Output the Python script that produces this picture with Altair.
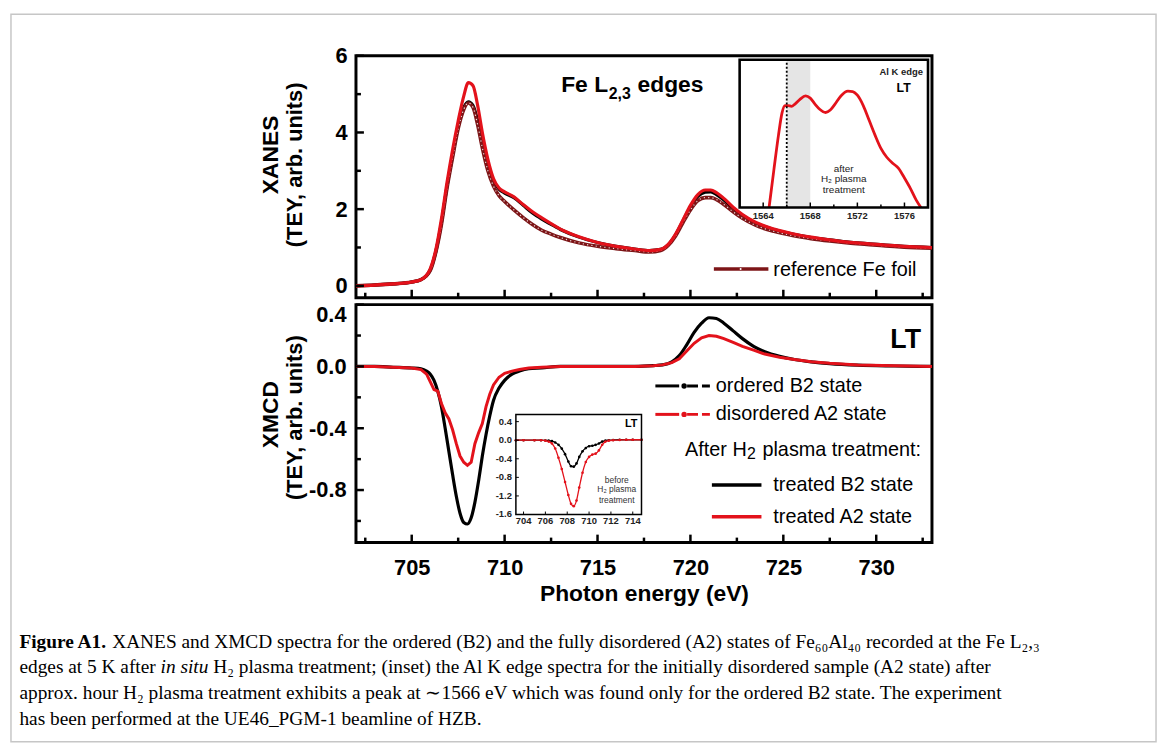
import altair as alt
import pandas as pd

SANS = "Liberation Sans, Arial, Helvetica, sans-serif"
SERIF = "Liberation Serif, Times New Roman, serif"
RED = "#e3121b"
MAROON = "#7d1517"

# ---------------- data ----------------
# XANES (top panel): photon energy, treated A2 (red), treated B2 (black), reference Fe foil
xanes_e = [702.0, 703.0, 704.0, 705.0, 705.5, 706.0, 706.3, 706.6, 706.9, 707.2,
           707.5, 707.8, 708.05, 708.3, 708.55, 708.8, 709.1, 709.4, 709.7, 710.0,
           710.5, 711.0, 711.5, 712.0, 712.5, 713.0, 714.0, 715.0, 716.0, 717.0,
           717.8, 718.4, 718.8, 719.2, 719.6, 720.0, 720.4, 720.8, 721.1, 721.4,
           721.8, 722.3, 722.8, 723.5, 724.5, 725.5, 726.5, 727.5, 728.5, 729.5,
           730.5, 731.5, 733.0]
xanes_a2 = [0.00, 0.02, 0.05, 0.10, 0.16, 0.45, 0.95, 1.75, 2.70, 3.55,
            4.30, 4.95, 5.30, 5.22, 4.70, 4.00, 3.30, 2.80, 2.55, 2.45,
            2.32, 2.12, 1.93, 1.77, 1.62, 1.48, 1.28, 1.13, 1.03, 0.96,
            0.92, 0.95, 1.08, 1.35, 1.72, 2.10, 2.38, 2.50, 2.50, 2.43,
            2.28, 2.05, 1.86, 1.66, 1.48, 1.36, 1.27, 1.20, 1.14, 1.10,
            1.06, 1.03, 1.00]
xanes_b2 = [0.00, 0.02, 0.05, 0.10, 0.16, 0.42, 0.90, 1.65, 2.60, 3.40,
            4.15, 4.65, 4.80, 4.70, 4.30, 3.70, 3.15, 2.75, 2.52, 2.42,
            2.30, 2.10, 1.90, 1.74, 1.60, 1.47, 1.27, 1.13, 1.03, 0.96,
            0.92, 0.95, 1.07, 1.33, 1.70, 2.06, 2.33, 2.44, 2.45, 2.38,
            2.24, 2.02, 1.84, 1.64, 1.47, 1.35, 1.26, 1.20, 1.14, 1.10,
            1.06, 1.03, 1.00]
xanes_ref = [0.00, 0.02, 0.05, 0.10, 0.16, 0.40, 0.88, 1.60, 2.55, 3.35,
             4.10, 4.60, 4.77, 4.65, 4.20, 3.60, 3.00, 2.60, 2.35, 2.20,
             1.98, 1.78, 1.60, 1.45, 1.35, 1.26, 1.12, 1.03, 0.97, 0.92,
             0.88, 0.92, 1.05, 1.30, 1.65, 1.98, 2.22, 2.30, 2.30, 2.25,
             2.12, 1.93, 1.76, 1.58, 1.42, 1.31, 1.23, 1.17, 1.12, 1.08,
             1.04, 1.01, 0.98]

# XMCD after treatment (bottom panel)
xmcd_e = [702, 703, 704, 705, 705.5, 705.8, 706.0, 706.2, 706.4, 706.6,
          706.8, 707.0, 707.2, 707.4, 707.6, 707.8, 708.0, 708.2, 708.4, 708.6,
          708.8, 709.0, 709.2, 709.4, 709.7, 710.0, 710.4, 710.8, 711.3, 712,
          713, 714, 715, 716, 717, 718, 718.5, 719.0, 719.4, 719.8,
          720.2, 720.6, 721.0, 721.4, 721.8, 722.3, 722.8, 723.4, 724.0, 724.8,
          725.6, 726.5, 727.5, 729, 731, 733]
xmcd_b2 = [0, 0, -0.005, -0.01, -0.015, -0.03, -0.05, -0.09, -0.16, -0.26,
           -0.40, -0.55, -0.70, -0.84, -0.95, -1.01, -1.02, -0.98, -0.88, -0.74,
           -0.58, -0.44, -0.32, -0.22, -0.14, -0.09, -0.05, -0.03, -0.015, -0.01,
           0, 0, 0, 0, 0, 0.005, 0.01, 0.03, 0.07, 0.14,
           0.22, 0.28, 0.315, 0.31, 0.28, 0.23, 0.18, 0.13, 0.095, 0.065,
           0.045, 0.03, 0.018, 0.008, 0.003, 0]
xmcd_a2 = [0, 0, -0.005, -0.01, -0.02, -0.05, -0.10, -0.15, -0.16, -0.24,
           -0.30, -0.34, -0.41, -0.50, -0.58, -0.62, -0.64, -0.62, -0.50, -0.43,
           -0.37, -0.26, -0.18, -0.12, -0.07, -0.045, -0.03, -0.02, -0.01, -0.005,
           0, 0, 0, 0, 0, 0.005, 0.01, 0.025, 0.05, 0.10,
           0.15, 0.185, 0.20, 0.195, 0.18, 0.155, 0.13, 0.105, 0.08, 0.06,
           0.045, 0.03, 0.02, 0.01, 0.005, 0]

# Inset 1: Al K edge after H2 plasma (normalised height in the inset)
alk_e = [1564.5, 1564.9, 1565.3, 1565.6, 1565.85, 1566.1, 1566.4, 1566.7, 1567.1, 1567.6,
         1568.0, 1568.4, 1568.8, 1569.3, 1569.7, 1570.1, 1570.6, 1571.2, 1571.6, 1572.0,
         1572.5, 1573.0, 1573.5, 1574.0, 1574.5, 1575.0, 1575.5, 1576.0, 1576.5, 1577.0,
         1577.4]
alk_v = [0.0, 0.25, 0.49, 0.64, 0.69, 0.69, 0.685, 0.70, 0.73, 0.755,
         0.74, 0.70, 0.665, 0.643, 0.66, 0.70, 0.755, 0.787, 0.785, 0.76,
         0.69, 0.59, 0.49, 0.40, 0.34, 0.30, 0.265, 0.20, 0.13, 0.05,
         0.0]

# Inset 2: XMCD before H2 plasma treatment
bef_e = [703.3, 704.0, 705.0, 705.6, 706.0, 706.3, 706.6, 706.9, 707.2, 707.5,
         707.8, 708.1, 708.35, 708.6, 708.85, 709.1, 709.4, 709.7, 710.0, 710.3,
         710.6, 710.9, 711.2, 711.5, 711.8, 712.2, 712.8, 713.4, 714.0, 714.8]
bef_b2 = [0, 0, 0, 0, -0.005, -0.01, -0.02, -0.05, -0.10, -0.18,
          -0.30, -0.46, -0.56, -0.57, -0.50, -0.36, -0.24, -0.17, -0.13, -0.12,
          -0.10, -0.07, -0.03, -0.01, 0, 0.005, 0.01, 0.01, 0.01, 0.01]
bef_a2 = [0, 0, 0, 0, -0.01, -0.03, -0.07, -0.18, -0.38, -0.62,
          -0.90, -1.18, -1.37, -1.42, -1.30, -1.02, -0.70, -0.47, -0.36, -0.31,
          -0.29, -0.22, -0.10, -0.03, -0.01, 0, 0.005, 0.01, 0.01, 0.01]

# tick values / labels
x_major = [705, 710, 715, 720, 725, 730]
x_minor = [702.5, 707.5, 712.5, 717.5, 722.5, 727.5, 732.5]
top_y_major = [0, 2, 4, 6]
top_y_minor = [1, 3, 5]
bot_y_major = [0.4, 0.0, -0.4, -0.8]
bot_y_minor = [0.2, -0.2, -0.6, -1.0]
in1_x_major = [1564, 1568, 1572, 1576]
in1_x_minor = [1566, 1570, 1574]
in2_x_ticks = [704, 706, 708, 710, 712, 714]
in2_y_ticks = [0.4, 0.0, -0.4, -0.8, -1.2, -1.6]
in2_y_labels = ["0.4", "0.0", "-0.4", "-0.8", "-1.2", "-1.6"]

# ---------------- layout ----------------
W, H1, H2, GAP = 581, 244, 240, 7
ONE = pd.DataFrame({"k": [0]})


def text(x, y, s, size, weight="normal", align="left", baseline="middle",
         angle=0, font=SANS, color="black", style="normal"):
    return alt.Chart(ONE).mark_text(
        fontSize=size, fontWeight=weight, align=align, baseline=baseline,
        angle=angle, font=font, color=color, fontStyle=style
    ).encode(x=alt.value(x), y=alt.value(y), text=alt.value(s))


def hrule(x1, x2, y, color, width, dash=None):
    kw = dict(color=color, strokeWidth=width)
    if dash is not None:
        kw["strokeDash"] = dash
    return alt.Chart(ONE).mark_rule(**kw).encode(
        x=alt.value(x1), x2=alt.value(x2), y=alt.value(y))


def dot(x, y, color, size):
    return alt.Chart(ONE).mark_point(filled=True, color=color, size=size, opacity=1).encode(
        x=alt.value(x), y=alt.value(y))


def xticks(vals, scale, y0, length, width=2.5, axis=None):
    return alt.Chart(pd.DataFrame({"t": vals})).mark_rule(color="black", strokeWidth=width).encode(
        x=alt.X("t:Q", scale=scale, axis=axis), y=alt.value(y0), y2=alt.value(y0 - length))


def yticks(vals, scale, x0, length, width=2.5, axis=None):
    return alt.Chart(pd.DataFrame({"t": vals})).mark_rule(color="black", strokeWidth=width).encode(
        y=alt.Y("t:Q", scale=scale, axis=axis), x=alt.value(x0), x2=alt.value(x0 + length))


def curve(df, col, color, width, xscale, yscale, yaxis=None, xaxis=None,
          interp="monotone", dash=None, opacity=1.0):
    kw = dict(color=color, strokeWidth=width, interpolate=interp, opacity=opacity)
    if dash is not None:
        kw["strokeDash"] = dash
    return alt.Chart(df).mark_line(**kw).encode(
        x=alt.X("e:Q", scale=xscale, axis=xaxis),
        y=alt.Y(f"{col}:Q", scale=yscale, axis=yaxis))


# ---------------- top panel (XANES) ----------------
xs = alt.Scale(domain=[702, 733], nice=False, zero=False)
ys1 = alt.Scale(domain=[-0.31, 6], nice=False, zero=False)
dfX = pd.DataFrame({"e": xanes_e, "a2": xanes_a2, "b2": xanes_b2, "ref": xanes_ref})

yax1 = alt.Axis(values=top_y_major, ticks=False, tickSize=0, domain=False, grid=False,
                labelFont=SANS, labelFontSize=22, labelFontWeight="bold", labelColor="black",
                labelPadding=9, title=None, format="d")

main1 = alt.layer(
    curve(dfX, "b2", "black", 3.2, xs, ys1, yaxis=yax1),
    curve(dfX, "ref", MAROON, 3.6, xs, ys1, yaxis=yax1),
    curve(dfX, "ref", "white", 1.2, xs, ys1, yaxis=yax1, dash=[1.2, 3.2], opacity=0.85),
    curve(dfX, "a2", RED, 3.2, xs, ys1, yaxis=yax1),
    xticks(x_major, xs, H1, 8),
    xticks(x_minor, xs, H1, 5),
    yticks(top_y_major, ys1, 0, 8, axis=yax1),
    yticks(top_y_minor, ys1, 0, 5, axis=yax1),
    text(207, 36.7, "Fe L", 23, "bold", baseline="alphabetic"),
    text(255, 44, "2,3", 16, "bold", baseline="alphabetic"),
    text(284, 36.7, "edges", 23, "bold", baseline="alphabetic"),
    hrule(361, 416, 215, MAROON, 3.5),
    dot(388, 215, "white", 4),
    text(421, 216, "reference Fe foil", 20),
    text(-86, 100, "XANES", 23, "bold", align="center", angle=270),
    text(-61, 110, "(TEY, arb. units)", 22, "bold", align="center", angle=270),
)

# inset 1 : Al K edge
xs_i1 = alt.Scale(domain=[1562, 1578], range=[387, 577], nice=False, zero=False)
ys_i1 = alt.Scale(domain=[0, 1], range=[153, 4], nice=False, zero=False)
dfA = pd.DataFrame({"e": alk_e, "v": alk_v})
box1 = pd.DataFrame({"x0": [1562], "x1": [1578], "y0": [0], "y1": [1]})
shade1 = pd.DataFrame({"x0": [1566], "x1": [1568], "y0": [0], "y1": [1]})
vline1 = pd.DataFrame({"x0": [1566], "y0": [0], "y1": [1]})


def rect(df, scx, scy, **kw):
    return alt.Chart(df).mark_rect(**kw).encode(
        x=alt.X("x0:Q", scale=scx, axis=None), x2="x1:Q",
        y=alt.Y("y0:Q", scale=scy, axis=None), y2="y1:Q")


inset1 = alt.layer(
    rect(box1, xs_i1, ys_i1, fill="white"),
    rect(shade1, xs_i1, ys_i1, fill="#dcdcdc", opacity=0.75),
    curve(dfA, "v", RED, 2.8, xs_i1, ys_i1),
    alt.Chart(vline1).mark_rule(color="black", strokeWidth=1.8, strokeDash=[2, 2]).encode(
        x=alt.X("x0:Q", scale=xs_i1, axis=None),
        y=alt.Y("y0:Q", scale=ys_i1, axis=None), y2="y1:Q"),
    rect(box1, xs_i1, ys_i1, fillOpacity=0, stroke="black", strokeWidth=2.6),
    xticks(in1_x_major, xs_i1, 153, 5, 1.5),
    xticks(in1_x_minor, xs_i1, 153, 3, 1.5),
    alt.Chart(pd.DataFrame({"t": in1_x_major})).mark_text(
        font=SANS, fontSize=9.5, fontWeight="bold", color="#222", baseline="middle").encode(
        x=alt.X("t:Q", scale=xs_i1, axis=None), y=alt.value(161.7), text=alt.Text("t:Q", format="d")),
    text(550, 16.5, "Al K edge", 9.5, "bold", align="center", color="#222"),
    text(552.5, 32.5, "LT", 12.5, "bold", align="center"),
    text(492, 114, "after", 10, align="center", color="#222"),
    text(492, 124.5, "H\u2082 plasma", 10, align="center", color="#222"),
    text(492, 135, "treatment", 10, align="center", color="#222"),
)

top = alt.layer(main1, inset1).resolve_scale(x="independent", y="independent").properties(
    width=W, height=H1)

# ---------------- bottom panel (XMCD) ----------------
ys2 = alt.Scale(domain=[-1.14, 0.4], nice=False, zero=False)
dfM = pd.DataFrame({"e": xmcd_e, "b2": xmcd_b2, "a2": xmcd_a2})

yax2 = alt.Axis(values=bot_y_major, ticks=False, tickSize=0, domain=False, grid=False,
                labelFont=SANS, labelFontSize=22, labelFontWeight="bold", labelColor="black",
                labelPadding=10, title=None, labelFlush=True,
                labelExpr="(datum.value < 0 ? '-' : '') + format(abs(datum.value), '.1f')")
xax2 = alt.Axis(values=x_major, ticks=False, tickSize=0, domain=False, grid=False,
                labelFont=SANS, labelFontSize=22, labelFontWeight="bold", labelColor="black",
                labelPadding=15, labelFlush=False, format="d",
                title="Photon energy (eV)", titleFont=SANS, titleFontSize=23,
                titleFontWeight="bold", titleColor="black", titlePadding=4)

cx = -339.5
CS = 19.5  # caption font size
main2 = alt.layer(
    curve(dfM, "b2", "black", 3.2, xs, ys2, yaxis=yax2, xaxis=xax2),
    curve(dfM, "a2", RED, 3.0, xs, ys2, yaxis=yax2, xaxis=xax2, interp="linear"),
    xticks(x_major, xs, H2, 8, axis=xax2),
    xticks(x_minor, xs, H2, 5, axis=xax2),
    yticks(bot_y_major, ys2, 0, 8, axis=yax2),
    yticks(bot_y_minor, ys2, 0, 5, axis=yax2),
    text(570, 36, "LT", 27, "bold", align="right"),
    # legend: before treatment (inset data)
    hrule(302, 326, 82, "black", 3),
    dot(331, 82, "black", 30),
    hrule(334, 357, 82, "black", 3, dash=[11, 4]),
    text(363, 82, "ordered B2 state", 20),
    hrule(302, 326, 110.7, RED, 3),
    dot(331, 110.7, RED, 30),
    hrule(334, 357, 110.7, RED, 3, dash=[11, 4]),
    text(363, 110.7, "disordered A2 state", 20),
    text(332, 147, "After H", 20),
    text(394.5, 151, "2", 16),
    text(410, 147, "plasma treatment:", 20),
    hrule(359, 409, 182, "black", 3.5),
    text(421, 182, "treated B2 state", 20),
    hrule(359, 409, 214, RED, 3.5),
    text(421, 214, "treated A2 state", 20),
    text(-86, 111, "XMCD", 23, "bold", align="center", angle=270),
    text(-61, 114, "(TEY, arb. units)", 22, "bold", align="center", angle=270),
    # caption
    text(cx, 340, "Figure A1.", CS, "bold", font=SERIF),
    text(cx + 93.6, 340, "XANES and XMCD spectra for the ordered (B2) and the fully disordered (A2) "
         "states of Fe\u2086\u2080Al\u2084\u2080 recorded at the Fe L\u2082,\u2083", CS, font=SERIF),
    text(cx, 366, "edges at 5 K after", CS, font=SERIF),
    text(cx + 142.4, 366, "in situ", CS, font=SERIF, style="italic"),
    text(cx + 195.5, 366, "H\u2082 plasma treatment; (inset) the Al K edge spectra for the initially "
         "disordered sample (A2 state) after", CS, font=SERIF),
    text(cx, 392, "approx. hour H\u2082 plasma treatment exhibits a peak at \u223c1566 eV which was "
         "found only for the ordered B2 state. The experiment", CS, font=SERIF),
    text(cx, 418, "has been performed at the UE46_PGM-1 beamline of HZB.", CS, font=SERIF),
    # figure border
    alt.Chart(ONE).mark_rect(fillOpacity=0, stroke="#c6c6c6", strokeWidth=1.5).encode(
        x=alt.value(-348), x2=alt.value(807), y=alt.value(-293), y2=alt.value(441)),
)

# inset 2 : before H2 plasma treatment
xs_i2 = alt.Scale(domain=[703.3, 714.8], range=[161.3, 288], nice=False, zero=False)
ys_i2 = alt.Scale(domain=[-1.6, 0.556], range=[211.7, 110.7], nice=False, zero=False)
dfB = pd.DataFrame({"e": bef_e, "b2": bef_b2, "a2": bef_a2})
box2 = pd.DataFrame({"x0": [703.3], "x1": [714.8], "y0": [-1.6], "y1": [0.556]})


def markers(df, col, color, scx, scy):
    return alt.Chart(df).mark_point(filled=True, color=color, size=7, opacity=1).encode(
        x=alt.X("e:Q", scale=scx, axis=None), y=alt.Y(f"{col}:Q", scale=scy, axis=None))


inset2 = alt.layer(
    rect(box2, xs_i2, ys_i2, fill="white"),
    curve(dfB, "b2", "black", 1.3, xs_i2, ys_i2),
    markers(dfB, "b2", "black", xs_i2, ys_i2),
    curve(dfB, "a2", RED, 1.3, xs_i2, ys_i2),
    markers(dfB, "a2", RED, xs_i2, ys_i2),
    rect(box2, xs_i2, ys_i2, fillOpacity=0, stroke="black", strokeWidth=1.5),
    xticks(in2_x_ticks, xs_i2, 211.7, 3, 1),
    yticks(in2_y_ticks, ys_i2, 161.3, 3, 1),
    alt.Chart(pd.DataFrame({"t": in2_x_ticks})).mark_text(
        font=SANS, fontSize=9.5, fontWeight="bold", color="#222", baseline="middle").encode(
        x=alt.X("t:Q", scale=xs_i2, axis=None), y=alt.value(218), text=alt.Text("t:Q", format="d")),
    alt.Chart(pd.DataFrame({"t": in2_y_ticks, "lab": in2_y_labels})).mark_text(
        font=SANS, fontSize=9.5, fontWeight="bold", color="#222", align="right", baseline="middle").encode(
        y=alt.Y("t:Q", scale=ys_i2, axis=None), x=alt.value(157.3), text="lab:N"),
    text(284, 120.7, "LT", 11, "bold", align="right"),
    text(263, 176.7, "before", 8.5, align="center", color="#333"),
    text(263, 186.3, "H\u2082 plasma", 8.5, align="center", color="#333"),
    text(263, 197.3, "treatment", 8.5, align="center", color="#333"),
)

bottom = alt.layer(main2, inset2).resolve_scale(x="independent", y="independent").properties(
    width=W, height=H2)

chart = alt.vconcat(top, bottom, spacing=GAP, bounds="flush").properties(
    padding={"left": 0, "top": 0, "right": 0, "bottom": 0}
).configure_view(stroke="black", strokeWidth=3)

chart.save("out.html", embed_options={"renderer": "svg", "actions": False})
